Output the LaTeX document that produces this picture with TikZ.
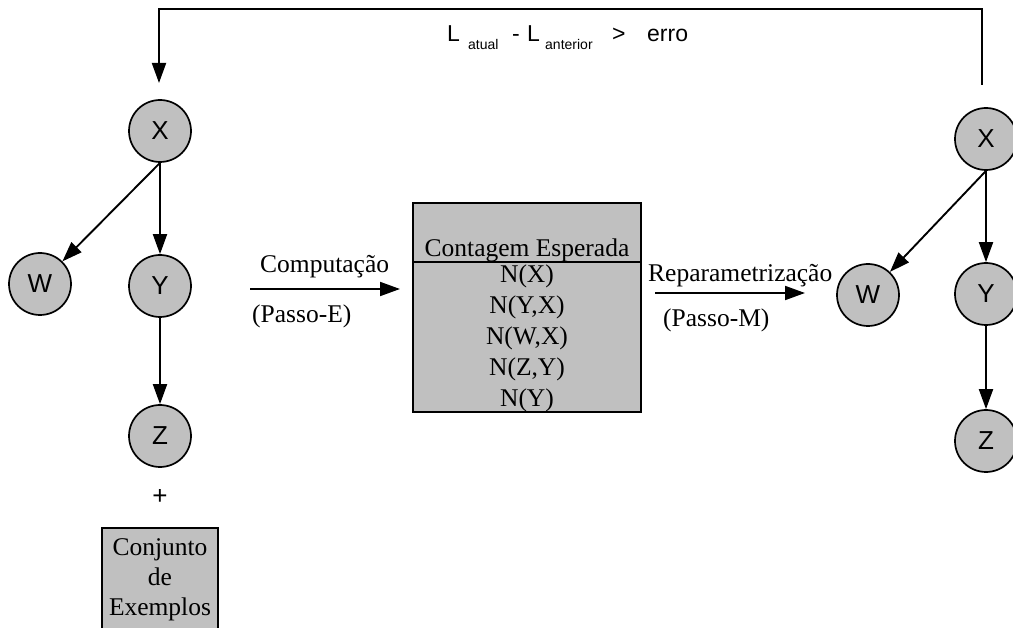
\documentclass[tikz,border=0pt]{standalone}
\usepackage{fontspec}
\setmainfont{Liberation Serif}
\newfontfamily\arialf{Liberation Sans}
\usetikzlibrary{arrows.meta}
\definecolor{nodegray}{RGB}{192,192,192}

\begin{document}
\begin{tikzpicture}[x=1pt,y=-1pt,
  var/.style={circle, draw, line width=1.7pt, fill=nodegray, minimum size=62pt,
    inner sep=0pt, font=\arialf\fontsize{26}{26}\selectfont},
  link/.style={line width=1.9pt, -{Triangle[length=20pt,width=14pt]}},
  serif/.style={font=\fontsize{25.5}{25.5}\selectfont, inner sep=0pt, anchor=base},
  lbl/.style={serif, anchor=base west},
  sans/.style={font=\arialf\fontsize{23}{23}\selectfont, inner sep=0pt, anchor=base west},
  sub/.style={font=\arialf\fontsize{14}{14}\selectfont, inner sep=0pt, anchor=base west},
  panel/.style={draw, line width=1.7pt, fill=nodegray, inner sep=0pt}]

\useasboundingbox (0,0) rectangle (1013,628);
\clip (0,0) rectangle (1013,628);

% ---- initial network (left) ----
\node[var] (xl) at (160,131) {X};
\node[var] (wl) at (40,284)  {W};
\node[var] (yl) at (160,286) {Y};
\node[var] (zl) at (160,436) {Z};
\draw[link] (xl.south) -- (wl);
\draw[link] (xl.south) -- (yl);
\draw[link] (yl.south) -- (zl);

\node[font=\arialf\fontsize{26}{26}\selectfont, inner sep=0pt] (plus) at (160,497) {+};

% training data
\node[panel, minimum width=116pt, minimum height=120pt, anchor=north] (exbox) at (160,527) {};
\node[serif] (ex1) at (160,555) {Conjunto};
\node[serif] (ex2) at (160,585) {de};
\node[serif] (ex3) at (160,615) {Exemplos};

% ---- E-step ----
\coordinate (eS) at (250,289);
\coordinate (eT) at (400,289);
\draw[link] (eS) -- (eT);
\node[lbl] (estep)  at (260,273) {Computação};
\node[lbl] (estep2) at (252,323) {(Passo-E)};

% ---- expected counts ----
\node[panel, minimum width=228pt, minimum height=209pt] (counts) at (527,307.5) {};
\coordinate (divy) at (0,262);
\draw[line width=1.7pt] (counts.west |- divy) -- (counts.east |- divy);
\node[serif] (head) at (527,257) {Contagem Esperada};
\node[serif] (c1) at (527,283)   {N(X)};
\node[serif] (c2) at (527,314) {N(Y,X)};
\node[serif] (c3) at (527,345)   {N(W,X)};
\node[serif] (c4) at (527,376) {N(Z,Y)};
\node[serif] (c5) at (527,407)   {N(Y)};

% ---- M-step ----
\coordinate (mS) at (655,293);
\coordinate (mT) at (805,293);
\draw[link] (mS) -- (mT);
\node[lbl] (mstep)  at (648,282) {Reparametrização};
\node[lbl] (mstep2) at (663,327) {(Passo-M)};

% ---- updated network (right) ----
\node[var] (xr) at (986,139) {X};
\node[var] (wr) at (868,295) {W};
\node[var] (yr) at (986,294) {Y};
\node[var] (zr) at (986,441) {Z};
\draw[link] (xr.south) -- (wr);
\draw[link] (xr.south) -- (yr);
\draw[link] (yr.south) -- (zr);

% ---- convergence loop ----
\coordinate (fbA) at (982,85);
\coordinate (fbB) at (159,83);
\draw[link] (fbA) -- ++(0,-76) -| (fbB);

\node[sans] (t1) at (447,42) {L};
\node[sub]  (t2) at (468,50) {atual};
\node[sans] (t3) at (512,42) {-};
\node[sans] (t4) at (527,42) {L};
\node[sub]  (t5) at (545,50) {anterior};
\node[sans] (t6) at (612,42) {>};
\node[sans] (t7) at (647,42) {erro};

\end{tikzpicture}
\end{document}
